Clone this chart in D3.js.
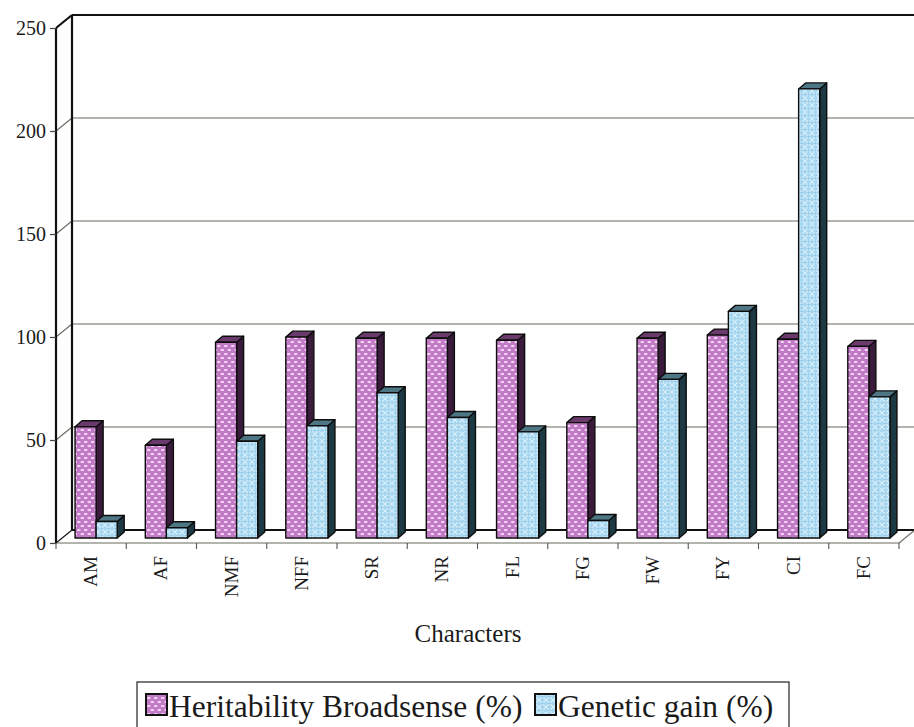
<!DOCTYPE html>
<html>
<head>
<meta charset="utf-8">
<script src="https://cdn.jsdelivr.net/npm/d3@7/dist/d3.min.js"></script>
<style>
  html, body { margin: 0; padding: 0; background: #fff; }
  svg { display: block; }
  text { font-family: "Liberation Serif", "Times New Roman", serif; fill: #1a1a1a; }
</style>
</head>
<body>
<svg id="chart" width="914" height="727"></svg>
<script>
// Characters measured and their two statistics
const categories = ["AM", "AF", "NMF", "NFF", "SR", "NR", "FL", "FG", "FW", "FY", "CI", "FC"];
const heritability = [54, 45, 95, 97.5, 97, 97, 96, 56, 97, 98.5, 96.5, 93];
const geneticGain = [8, 5, 47, 54.5, 70.5, 58.5, 51.5, 8.5, 77, 110, 218, 68.5];
const yTicks = [0, 50, 100, 150, 200, 250];
const seriesNames = ["Heritability Broadsense (%)", "Genetic gain (%)"];

const svg = d3.select("#chart");
const W = 914;

// Front plane of the 3-D box
const left = 56, right = 899;
const y = d3.scaleLinear().domain([0, 250]).range([543, 28]);
const x = d3.scaleBand().domain(categories).range([left, right])
  .paddingInner(0.4).paddingOuter(0.2);
const xs = d3.scaleBand().domain(["h", "g"]).range([0, x.bandwidth()]);

// depth offsets: back wall, bar plane, bar thickness
const back = { dx: 16, dy: -13 };
const plane = { dx: 5, dy: -5 };
const thick = { dx: 7, dy: -6 };

// Fill patterns
const defs = svg.append("defs");
const pPink = defs.append("pattern").attr("id", "pinkDots")
  .attr("patternUnits", "userSpaceOnUse").attr("width", 7).attr("height", 8);
pPink.append("rect").attr("width", 7).attr("height", 8).attr("fill", "#c27ac6");
pPink.append("ellipse").attr("cx", 1.75).attr("cy", 2).attr("rx", 1.9).attr("ry", 1.1).attr("fill", "#f6dcf6");
pPink.append("ellipse").attr("cx", 5.25).attr("cy", 6).attr("rx", 1.9).attr("ry", 1.1).attr("fill", "#f6dcf6");

const pBlue = defs.append("pattern").attr("id", "blueHatch")
  .attr("patternUnits", "userSpaceOnUse").attr("width", 7).attr("height", 7);
pBlue.append("rect").attr("width", 7).attr("height", 7).attr("fill", "#a4d6f0");
pBlue.append("path").attr("d", "M0,0 L7,7 M7,0 L0,7")
  .attr("stroke", "#dcf1fb").attr("stroke-width", 1.1);
pBlue.append("circle").attr("cx", 3.5).attr("cy", 3.5).attr("r", 1.1).attr("fill", "#86c2e4");

const styles = {
  h: { front: "url(#pinkDots)", side: "#3a1b3c", top: "#6a3a6c" },
  g: { front: "url(#blueHatch)", side: "#1d3a44", top: "#4e7684" }
};

// Back wall gridlines and left wall diagonals
const grid = svg.append("g");
yTicks.forEach(t => {
  const yf = y(t), yb = y(t) + back.dy;
  const edge = (t === 0 || t === 250);
  grid.append("line")
    .attr("x1", left + back.dx).attr("x2", W)
    .attr("y1", yb).attr("y2", yb)
    .attr("stroke", edge ? "#111" : "#6b6b60")
    .attr("stroke-width", edge ? 2.2 : 1.1);
  grid.append("line")
    .attr("x1", left).attr("y1", yf)
    .attr("x2", left + back.dx).attr("y2", yb)
    .attr("stroke", t === 250 || t === 0 ? "#111" : "#6b6b60")
    .attr("stroke-width", t === 250 ? 2.2 : 1.1);
});

// Left wall verticals
svg.append("line").attr("x1", left + back.dx).attr("x2", left + back.dx)
  .attr("y1", y(250) + back.dy).attr("y2", y(0) + back.dy)
  .attr("stroke", "#111").attr("stroke-width", 2.2);

// Floor front edge and right diagonal
svg.append("line").attr("x1", left).attr("x2", right)
  .attr("y1", y(0)).attr("y2", y(0))
  .attr("stroke", "#6b6b60").attr("stroke-width", 1.1);
svg.append("line").attr("x1", right).attr("y1", y(0))
  .attr("x2", right + back.dx).attr("y2", y(0) + back.dy)
  .attr("stroke", "#6b6b60").attr("stroke-width", 1.1);

// Bars as 3-D blocks
const bars = svg.append("g").attr("stroke", "#0d0d0d").attr("stroke-width", 1.4)
  .attr("stroke-linejoin", "round");
const base = y(0) + plane.dy;
categories.forEach((c, i) => {
  [["h", heritability[i]], ["g", geneticGain[i]]].forEach(([k, v]) => {
    const x0 = x(c) + xs(k) + plane.dx;
    const w = xs.bandwidth();
    const top = y(v) + plane.dy;
    const st = styles[k];
    const g = bars.append("g");
    // side face
    g.append("path").attr("fill", st.side).attr("d",
      `M${x0 + w},${top} L${x0 + w + thick.dx},${top + thick.dy} L${x0 + w + thick.dx},${base + thick.dy} L${x0 + w},${base} Z`);
    // top face
    g.append("path").attr("fill", st.top).attr("d",
      `M${x0},${top} L${x0 + thick.dx},${top + thick.dy} L${x0 + w + thick.dx},${top + thick.dy} L${x0 + w},${top} Z`);
    // front face
    g.append("rect").attr("x", x0).attr("y", top).attr("width", w).attr("height", base - top)
      .attr("fill", st.front);
  });
});

// Front vertical axis line
svg.append("line").attr("x1", left).attr("x2", left)
  .attr("y1", y(250)).attr("y2", y(0))
  .attr("stroke", "#111").attr("stroke-width", 2.2);

// Y axis ticks and labels
const yAxis = d3.axisLeft(y).tickValues(yTicks).tickSize(6).tickPadding(4);
const ya = svg.append("g").attr("transform", `translate(${left},0)`).call(yAxis);
ya.select(".domain").remove();
ya.selectAll(".tick line").attr("stroke", "#444").attr("stroke-width", 1.2);
ya.selectAll(".tick text").attr("font-size", 20)
  .attr("font-family", "Liberation Serif").attr("fill", "#222");

// X axis ticks at category boundaries
const step = x.step();
const bounds = d3.range(categories.length + 1).map(i => left + i * step);
svg.append("g").selectAll("line").data(bounds).join("line")
  .attr("x1", d => d).attr("x2", d => d)
  .attr("y1", y(0)).attr("y2", y(0) + 6)
  .attr("stroke", "#555").attr("stroke-width", 1.1);

// Category labels, rotated
svg.append("g").selectAll("text").data(categories).join("text")
  .attr("transform", d => `translate(${x(d) + x.bandwidth() / 2 + 6},${556}) rotate(-90)`)
  .attr("text-anchor", "end")
  .attr("font-size", 19)
  .text(d => d);

// Axis title
svg.append("text").attr("x", 468).attr("y", 642)
  .attr("text-anchor", "middle").attr("font-size", 25)
  .text("Characters");

// Legend
const lg = svg.append("g");
lg.append("rect").attr("x", 137).attr("y", 682).attr("width", 652).attr("height", 70)
  .attr("fill", "none").attr("stroke", "#333").attr("stroke-width", 1.3);
const legendItems = [
  { name: seriesNames[0], fill: "url(#pinkDots)", x: 146 },
  { name: seriesNames[1], fill: "url(#blueHatch)", x: 535 }
];
legendItems.forEach(it => {
  lg.append("rect").attr("x", it.x).attr("y", 694).attr("width", 21).attr("height", 21)
    .attr("fill", it.fill).attr("stroke", "#111").attr("stroke-width", 2);
  lg.append("text").attr("x", it.x + 23).attr("y", 717)
    .attr("font-size", 31.5).text(it.name);
});
</script>
</body>
</html>
